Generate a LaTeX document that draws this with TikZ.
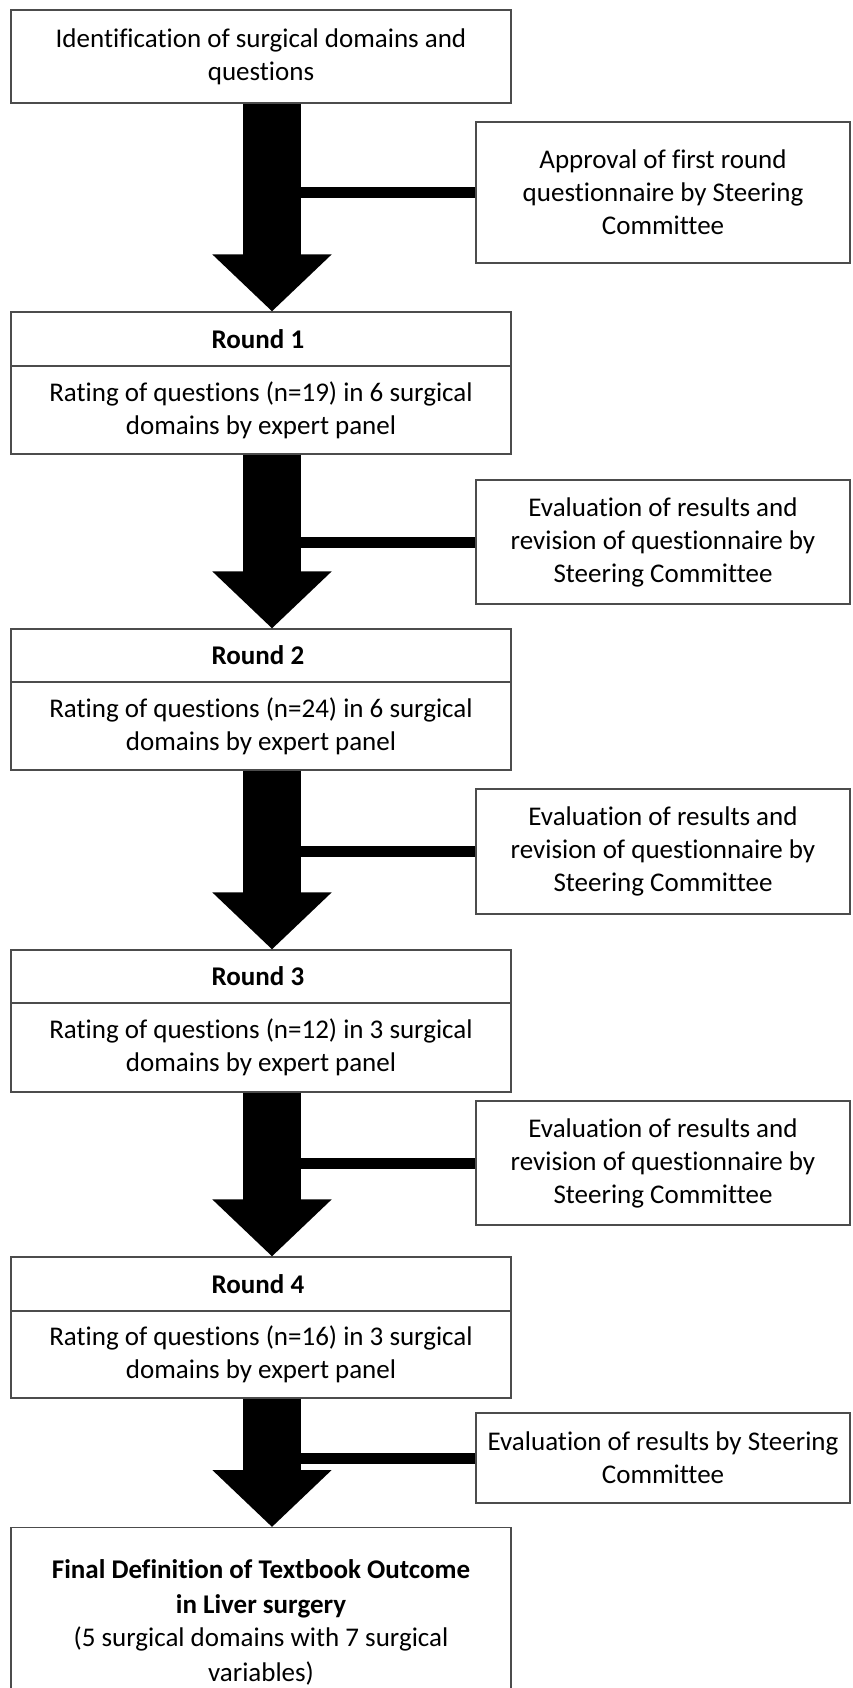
\documentclass[tikz,border=0pt]{standalone}
\usepackage{fontspec}
\setmainfont{Carlito}[Ligatures=NoCommon]
\usetikzlibrary{arrows.meta}

\begin{document}
\begin{tikzpicture}[x=1pt,y=-1pt,
  box/.style={draw=black!70, line width=1.2pt, fill=white, align=center,
    minimum width=500, inner sep=4pt, font=\fontsize{27}{33}\selectfont},
  headbox/.style={box, font=\fontsize{27}{33}\selectfont\bfseries},
  sidebox/.style={box, minimum width=374},
  flow/.style={line width=58pt, -{Triangle[width=116pt,length=57pt]}},
  link/.style={line width=11pt}]
  \useasboundingbox (0,0) rectangle (853,1688);
  \clip (0,0) rectangle (853,1688);

  % left column
  \node [box, minimum height=93] (start) at (261,56.5)
    { Identification of surgical domains and\\ questions };

  \node [headbox, minimum height=54] (r1head) at (261,339) { Round 1 };
  \node [box, minimum height=88] (r1) at (261,410)
    { Rating of questions (n=19) in 6 surgical\\ domains by expert panel };

  \node [headbox, minimum height=53] (r2head) at (261,655.5) { Round 2 };
  \node [box, minimum height=88] (r2) at (261,726)
    { Rating of questions (n=24) in 6 surgical\\ domains by expert panel };

  \node [headbox, minimum height=53] (r3head) at (261,976.5) { Round 3 };
  \node [box, minimum height=89] (r3) at (261,1047.5)
    { Rating of questions (n=12) in 3 surgical\\ domains by expert panel };

  \node [headbox, minimum height=54] (r4head) at (261,1284) { Round 4 };
  \node [box, minimum height=87] (r4) at (261,1354.5)
    { Rating of questions (n=16) in 3 surgical\\ domains by expert panel };

  \node [box, minimum height=190, anchor=north, inner ysep=12pt] (final) at (261,1527)
    { \textbf{Final Definition of Textbook Outcome}\\[2pt] \textbf{in Liver surgery}\\
      (5 surgical domains with 7 surgical\\[2pt] variables) };

  % right column
  \node [sidebox, minimum height=141] (approve) at (663,192.5)
    { Approval of first round\\ questionnaire by Steering\\ Committee };
  \node [sidebox, minimum height=124] (eval1) at (663,542)
    { Evaluation of results and\\ revision of questionnaire by\\ Steering Committee };
  \node [sidebox, minimum height=125] (eval2) at (663,851.5)
    { Evaluation of results and\\ revision of questionnaire by\\ Steering Committee };
  \node [sidebox, minimum height=124] (eval3) at (663,1163)
    { Evaluation of results and\\ revision of questionnaire by\\ Steering Committee };
  \node [sidebox, minimum height=90] (eval4) at (663,1458)
    { Evaluation of results by Steering\\ Committee };

  % side links into the arrows
  \draw [link] (approve.west) -- (272,192.5);
  \draw [link] (eval1.west) -- (272,542);
  \draw [link] (eval2.west) -- (272,851.5);
  \draw [link] (eval3.west) -- (272,1163);
  \draw [link] (eval4.west) -- (272,1458);

  % main flow
  \draw [flow] ([xshift=11pt]start.south) -- ([xshift=11pt]r1head.north);
  \draw [flow] ([xshift=11pt]r1.south) -- ([xshift=11pt]r2head.north);
  \draw [flow] ([xshift=11pt]r2.south) -- ([xshift=11pt]r3head.north);
  \draw [flow] ([xshift=11pt]r3.south) -- ([xshift=11pt]r4head.north);
  \draw [flow] ([xshift=11pt]r4.south) -- ([xshift=11pt]final.north);
\end{tikzpicture}
\end{document}
